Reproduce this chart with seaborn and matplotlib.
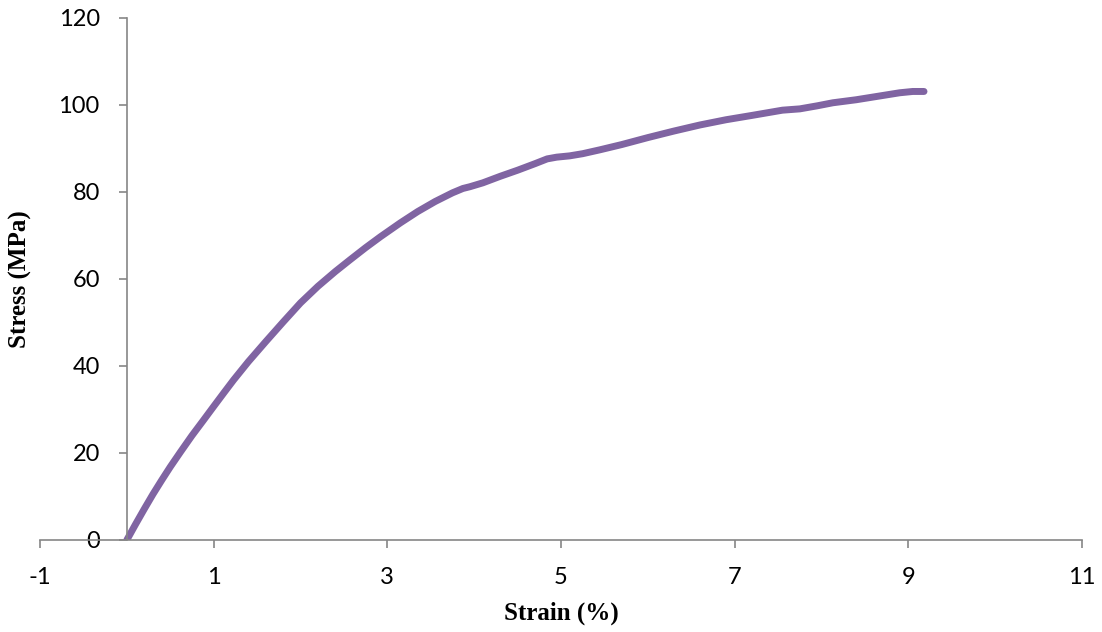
import pandas as pd
import matplotlib.pyplot as plt
import seaborn as sns

# values
strain = [0.0, 0.1, 0.2, 0.3, 0.4, 0.5, 0.62, 0.75, 0.885, 1.0, 1.12, 1.23,
          1.4, 1.6, 1.8, 2.0, 2.2, 2.4, 2.57, 2.75, 2.92, 3.15, 3.35, 3.55,
          3.75, 3.87, 3.95, 4.1, 4.3, 4.5, 4.7, 4.84, 4.95, 5.1, 5.25, 5.45,
          5.7, 6.0, 6.3, 6.6, 6.9, 7.2, 7.55, 7.75, 7.95, 8.13, 8.4, 8.65,
          8.9, 9.05, 9.18]
stress = [0.0, 3.6, 7.1, 10.5, 13.7, 16.8, 20.3, 24.0, 27.6, 30.7, 33.9, 36.8,
          41.0, 45.6, 50.1, 54.5, 58.3, 61.7, 64.4, 67.2, 69.7, 72.9, 75.5, 77.8,
          79.8, 80.8, 81.2, 82.1, 83.6, 85.0, 86.5, 87.6, 88.0, 88.3, 88.8, 89.7,
          90.9, 92.5, 94.0, 95.4, 96.6, 97.6, 98.8, 99.1, 99.8, 100.5, 101.2, 102.0,
          102.8, 103.1, 103.1]
xticks = [-1, 1, 3, 5, 7, 9, 11]
yticks = [0, 20, 40, 60, 80, 100, 120]

df = pd.DataFrame({'strain': strain, 'stress': stress})

sns.set_style('white')
plt.rcParams['font.family'] = ['Lato', 'DejaVu Sans']
plt.rcParams['axes.unicode_minus'] = False

fig = plt.figure(figsize=(11.02, 6.32), dpi=100)
ax = fig.add_axes([0.0363, 0.1456, 0.9456, 0.826])

sns.lineplot(data=df, x='strain', y='stress', sort=False, color='#8064A2',
             linewidth=5, ax=ax, solid_capstyle='round', solid_joinstyle='round')

ax.set_xlim(-1, 11)
ax.set_ylim(0, 120)
ax.set_xticks(xticks)
ax.set_yticks(yticks)

for side in ['top', 'right']:
    ax.spines[side].set_visible(False)
ax.spines['left'].set_position(('data', 0))
for side in ['left', 'bottom']:
    ax.spines[side].set_color('#868686')
    ax.spines[side].set_linewidth(1.2)

ax.tick_params(axis='both', direction='out', length=5.5, width=1.2,
               color='#868686', labelcolor='black', labelsize=17,
               bottom=True, left=True)
ax.tick_params(axis='x', pad=14)
ax.tick_params(axis='y', pad=14)

ax.set_xlabel('Strain (%)', fontsize=18, fontweight='bold', color='black',
              family='Liberation Serif', labelpad=10)
ax.set_ylabel('Stress (MPa)', fontsize=18, fontweight='bold', color='black',
              family='Liberation Serif')
ax.yaxis.set_label_coords(-0.008, 0.5)

fig.savefig('out.png', dpi=100)
